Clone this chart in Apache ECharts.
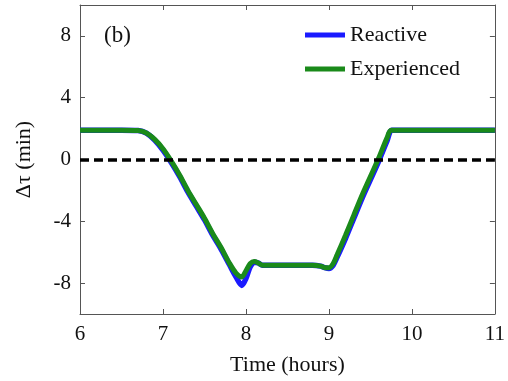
<!DOCTYPE html>
<html lang="en">
<head>
    <meta charset="UTF-8">
    <title>Delta tau chart</title>
    <script src="https://cdn.jsdelivr.net/npm/echarts@6/dist/echarts.min.js"></script>
</head>
<body style="margin:0;">
<div id="chart" style="width:508px;height:381px;"></div>
<script type="text/javascript">
    // time (hours)
    var timeReactive = [6.0, 6.5, 6.7, 6.8, 6.9, 7.0, 7.1, 7.2, 7.3, 7.4, 7.5, 7.6, 7.7, 7.8, 7.88, 7.95, 8.0, 8.05, 8.1, 8.15, 8.2, 8.4, 8.6, 8.8, 8.9, 8.95, 9.0, 9.05, 9.1, 9.2, 9.3, 9.4, 9.5, 9.6, 9.7, 9.76, 10.0, 11.0];
    var reactive     = [1.9, 1.9, 1.87, 1.7, 1.25, 0.6, -0.2, -1.1, -2.1, -3.0, -3.9, -4.9, -5.8, -6.8, -7.6, -8.15, -7.7, -6.95, -6.65, -6.7, -6.85, -6.85, -6.85, -6.85, -6.9, -7.0, -7.05, -6.85, -6.3, -5.1, -3.8, -2.5, -1.3, -0.1, 1.2, 1.9, 1.9, 1.9];
    var timeExperienced = [6.0, 6.5, 6.7, 6.8, 6.9, 7.0, 7.1, 7.2, 7.3, 7.4, 7.5, 7.6, 7.7, 7.8, 7.88, 7.95, 8.0, 8.05, 8.1, 8.15, 8.2, 8.4, 8.6, 8.8, 8.9, 8.95, 9.0, 9.05, 9.1, 9.2, 9.3, 9.4, 9.5, 9.6, 9.7, 9.75, 10.0, 11.0];
    var experienced     = [1.9, 1.9, 1.87, 1.72, 1.3, 0.7, -0.1, -1.0, -2.0, -2.9, -3.8, -4.8, -5.7, -6.7, -7.35, -7.6, -7.2, -6.75, -6.6, -6.7, -6.85, -6.85, -6.85, -6.85, -6.9, -7.0, -7.0, -6.75, -6.15, -4.9, -3.6, -2.3, -1.1, 0.1, 1.4, 1.9, 1.9, 1.9];
    var yTicks = [-8, -4, 0, 4, 8];
    var zeroLevel = 0;

    function pairs(xs, ys) {
        var res = [];
        for (var i = 0; i < xs.length; i++) {
            res.push([xs[i], ys[i]]);
        }
        return res;
    }

    var serif = 'Liberation Serif';
    var axisColor = '#555';
    var chart = echarts.init(document.getElementById('chart'));
    var option = {
        backgroundColor: '#fff',
        animation: false,
        title: {
            text: '(b)',
            left: 99,
            top: 19,
            textStyle: {fontFamily: serif, fontSize: 23, fontWeight: 'normal', color: '#111'}
        },
        legend: {
            orient: 'vertical',
            left: 300,
            top: 19,
            itemWidth: 40,
            itemHeight: 5,
            itemGap: 12,
            icon: 'rect',
            textStyle: {fontFamily: serif, fontSize: 22, color: '#111'},
            data: ['Reactive', 'Experienced']
        },
        grid: {left: 80, right: 11, top: 5, bottom: 66},
        xAxis: [{
            type: 'value',
            min: 6, max: 11, interval: 1,
            name: 'Time (hours)',
            nameLocation: 'middle',
            nameGap: 40,
            nameTextStyle: {fontFamily: serif, fontSize: 22, color: '#111'},
            axisLine: {onZero: false, lineStyle: {color: axisColor}},
            axisTick: {inside: true, length: 5, lineStyle: {color: axisColor}},
            axisLabel: {fontFamily: serif, fontSize: 21, color: '#111', margin: 10},
            splitLine: {show: false}
        }, {
            type: 'value', position: 'top',
            min: 6, max: 11, interval: 1,
            axisLine: {show: true, onZero: false, lineStyle: {color: axisColor}},
            axisTick: {inside: true, length: 5, lineStyle: {color: axisColor}},
            axisLabel: {show: false},
            splitLine: {show: false}
        }],
        yAxis: [{
            type: 'value',
            min: -10, max: 10,
            name: 'Δτ (min)',
            nameLocation: 'middle',
            nameGap: 45,
            nameTextStyle: {fontFamily: serif, fontSize: 22, color: '#111'},
            axisLine: {show: true, onZero: false, lineStyle: {color: axisColor}},
            axisTick: {inside: true, length: 5, customValues: yTicks, lineStyle: {color: axisColor}},
            axisLabel: {fontFamily: serif, fontSize: 21, color: '#111', margin: 9, customValues: yTicks},
            splitLine: {show: false}
        }, {
            type: 'value', position: 'right',
            min: -10, max: 10,
            axisLine: {show: true, onZero: false, lineStyle: {color: axisColor}},
            axisTick: {inside: true, length: 5, customValues: yTicks, lineStyle: {color: axisColor}},
            axisLabel: {show: false, customValues: yTicks},
            splitLine: {show: false}
        }],
        series: [{
            name: 'Reactive',
            type: 'line',
            data: pairs(timeReactive, reactive),
            showSymbol: false,
            smooth: 0.3,
            lineStyle: {color: '#1a1aff', width: 5.5},
            itemStyle: {color: '#1a1aff'},
            z: 2
        }, {
            name: 'Experienced',
            type: 'line',
            data: pairs(timeExperienced, experienced),
            showSymbol: false,
            smooth: 0.3,
            lineStyle: {color: '#1a8a1a', width: 5},
            itemStyle: {color: '#1a8a1a'},
            z: 3,
            markLine: {
                silent: true,
                symbol: 'none',
                label: {show: false},
                lineStyle: {color: '#000', type: [9, 5], width: 3.5},
                data: [{yAxis: zeroLevel}]
            }
        }]
    };
    chart.setOption(option);
</script>
</body>
</html>
